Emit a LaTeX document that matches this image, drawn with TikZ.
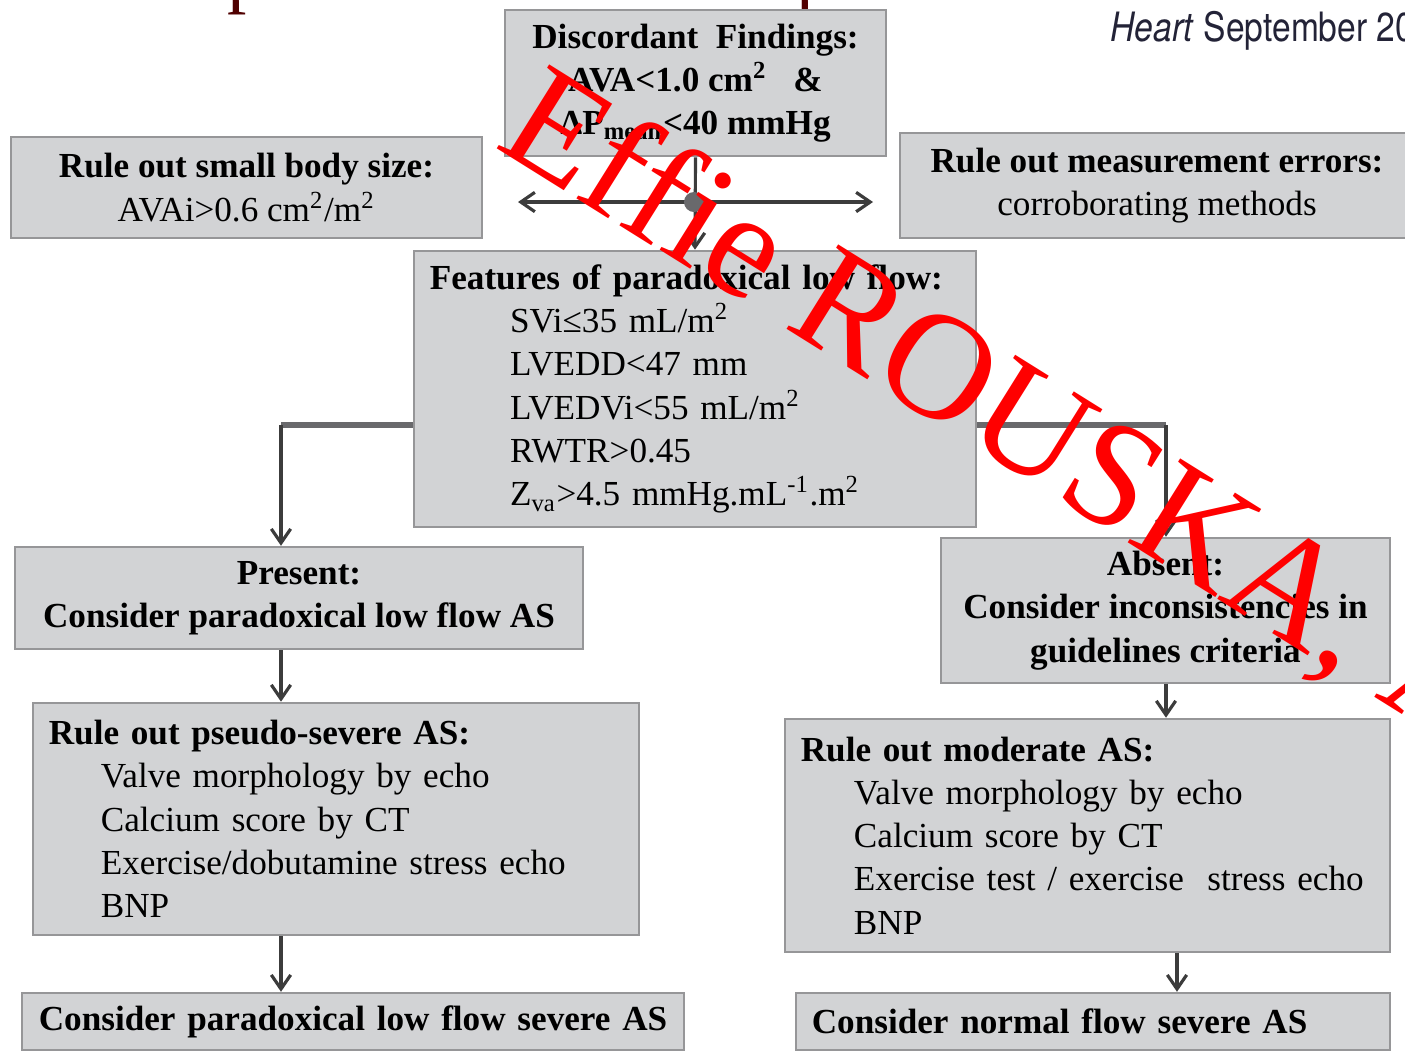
\documentclass[tikz,border=0pt]{standalone}
\usepackage{fontspec}
\setmainfont{Liberation Serif}
\newfontfamily\heros{TeX Gyre Heros}
\usetikzlibrary{arrows.meta}
\definecolor{boxfill}{RGB}{210,211,213}
\definecolor{boxline}{RGB}{150,150,152}
\definecolor{arr}{RGB}{60,60,60}
\definecolor{hgray}{RGB}{105,105,108}
\definecolor{titlered}{RGB}{80,0,0}
\definecolor{heartcol}{RGB}{35,35,55}
\definecolor{wmred}{RGB}{255,0,0}
\begin{document}
\begin{tikzpicture}[x=0.01cm,y=-0.01cm,
  box/.style={draw=boxline, fill=boxfill, line width=0.7pt, inner xsep=0.16cm, inner ysep=0pt,
    font=\fontsize{10}{12.3}\selectfont},
  cbox/.style={box, align=center},
  lbox/.style={box, align=left},
  conn/.style={draw=arr, line width=0.9pt, -{Straight Barb[length=4pt,width=5.5pt]}},
  dconn/.style={draw=arr, line width=0.9pt, {Straight Barb[length=4pt,width=5.5pt]}-{Straight Barb[length=4pt,width=5.5pt]}},
  hline/.style={draw=hgray, line width=1.6pt},
  dot/.style={circle, fill=hgray, inner sep=0pt, minimum size=0.2cm},
  titlep/.style={text=titlered, font=\fontsize{22}{24}\selectfont, inner sep=0pt},
  wm/.style={text=wmred, font=\fontsize{43}{46}\selectfont, inner sep=0pt}
]
\useasboundingbox (0,0) rectangle (1405,1053);
\clip (0,0) rectangle (1405,1053);
\fill[white] (0,0) rectangle (1405,1053);

% cut-off title glyphs
\node[titlep, anchor=base west] (tp1) at (227,-2) {p};
\node[titlep, anchor=base west] (tp2) at (796,-2) {p};

% journal header
\node[anchor=west, inner sep=0pt, xscale=0.83, text=heartcol,
  font=\heros\fontsize{11.5}{13}\selectfont] (journal) at (1110,31) {\textit{Heart} September 20};

% boxes
\node[cbox, minimum width=3.81cm, minimum height=1.46cm] (disc) at (695.5,83)
  {\textbf{Discordant\ \ Findings:}\\ \textbf{AVA<1.0 cm\textsuperscript{2}\ \ \ \&}\\ \textbf{ΔP\textsubscript{mean}<40 mmHg}};
\node[cbox, minimum width=4.71cm, minimum height=1.01cm] (small) at (246.5,187.5)
  {\textbf{Rule out small body size:}\\ AVAi>0.6 cm\textsuperscript{2}/m\textsuperscript{2}};
\node[cbox, minimum width=5.14cm, minimum height=1.05cm] (meas) at (1157,185.5)
  {\textbf{Rule out measurement errors:}\\ corroborating methods};
\node[lbox, text width=5.30cm, minimum height=2.76cm] (feat) at (695,389)
  {\textbf{Features of paradoxical low flow:}\\
   \hspace*{22.8pt}SVi≤35 mL/m\textsuperscript{2}\\
   \hspace*{22.8pt}LVEDD<47 mm\\
   \hspace*{22.8pt}LVEDVi<55 mL/m\textsuperscript{2}\\
   \hspace*{22.8pt}RWTR>0.45\\
   \hspace*{22.8pt}Z\textsubscript{va}>4.5 mmHg.mL\textsuperscript{-1}.m\textsuperscript{2}};
\node[cbox, minimum width=5.68cm, minimum height=1.02cm] (present) at (299,598)
  {\textbf{Present:}\\ \textbf{Consider paradoxical low flow AS}};
\node[cbox, minimum width=4.49cm, minimum height=1.45cm] (absent) at (1165.5,610.5)
  {\textbf{Absent:}\\ \textbf{Consider inconsistencies in}\\ \textbf{guidelines criteria}};
\node[lbox, text width=5.74cm, minimum height=2.32cm] (pseudo) at (336,819)
  {\textbf{Rule out pseudo-severe AS:}\\
   \hspace*{14.8pt}Valve morphology by echo\\
   \hspace*{14.8pt}Calcium score by CT\\
   \hspace*{14.8pt}Exercise/dobutamine stress echo\\
   \hspace*{14.8pt}BNP};
\node[lbox, text width=5.73cm, minimum height=2.33cm] (moderate) at (1087.5,835.5)
  {\textbf{Rule out moderate AS:}\\
   \hspace*{15.1pt}Valve morphology by echo\\
   \hspace*{15.1pt}Calcium score by CT\\
   \hspace*{15.1pt}Exercise test / exercise\ \ stress echo\\
   \hspace*{15.1pt}BNP};
\node[lbox, text width=6.28cm, minimum height=0.57cm, inner xsep=0.17cm] (botleft) at (353,1021.5)
  {\mbox{\textbf{Consider paradoxical low flow severe AS}}};
\node[lbox, text width=5.62cm, minimum height=0.57cm] (botright) at (1093,1021.5)
  {\mbox{\textbf{Consider normal flow severe AS}}};

% connectors
\coordinate (hl) at (518,202);
\coordinate (hr) at (873,202);
\draw[conn] (disc.south) -- (feat.north);
\draw[dconn] (hl) -- (hr);
\node[dot] (junc) at (694,202) {};

\coordinate (lb) at (281,425);
\coordinate (rb) at (1166,425);
\coordinate (mr) at (1177,960);
\draw[hline] (feat.west |- lb) -- (lb);
\draw[conn] (lb) -- (lb |- present.north);
\draw[hline] (feat.east |- rb) -- (rb);
\draw[conn] (rb) -- (rb |- absent.north);
\draw[conn] (present.south -| lb) -- (pseudo.north -| lb);
\draw[conn] (absent.south -| rb) -- (moderate.north -| rb);
\draw[conn] (pseudo.south -| lb) -- (botleft.north -| lb);
\draw[conn] (moderate.south -| mr) -- (botright.north -| mr);

% watermark
\node[wm, rotate=-32, anchor=base west] (wmark) at (493,146) {Ef\kern0pt f\kern0pt ie ROUSKA, A};
\end{tikzpicture}
\end{document}
